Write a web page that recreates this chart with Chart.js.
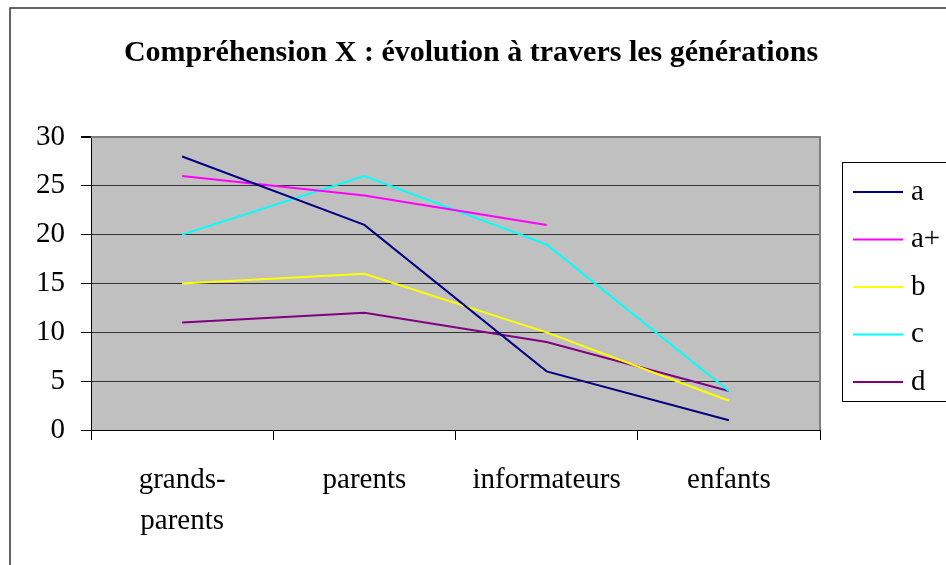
<!DOCTYPE html>
<html>
<head>
<meta charset="utf-8">
<script src="https://cdn.jsdelivr.net/npm/chart.js@4.4.1/dist/chart.umd.min.js"></script>
<style>
  html, body { margin: 0; padding: 0; background: #fff; }
  #wrap { width: 946px; height: 565px; }
</style>
</head>
<body>
<div id="wrap"><canvas id="chart-comprehension"></canvas></div>
<script>
const categories = [['grands-', 'parents'], 'parents', 'informateurs', 'enfants'];
const seriesNames = ['a', 'a+', 'b', 'c', 'd'];
const seriesColors = ['#000080', '#FF00FF', '#FFFF00', '#00FFFF', '#800080'];
const valuesA = [28, 21, 6, 1];
const valuesAPlus = [26, 24, 21, null];
const valuesB = [15, 16, 10, 3];
const valuesC = [20, 26, 19, 4];
const valuesD = [11, 12, 9, 4];
const yTicks = [0, 5, 10, 15, 20, 25, 30];
const titleText = 'Compréhension X : évolution à travers les générations';

const serif = "'Liberation Serif', 'Times New Roman', serif";
const allValues = [valuesA, valuesAPlus, valuesB, valuesC, valuesD];

// gray plot background, outer frame, title and boxed legend
const excelLook = {
  id: 'excelLook',
  beforeDraw(chart) {
    const { ctx, chartArea: { top, bottom, left, right } } = chart;
    ctx.save();
    ctx.fillStyle = '#C0C0C0';
    ctx.fillRect(left, top, right - left, bottom - top);
    ctx.restore();
  },
  afterDraw(chart) {
    const { ctx, chartArea: { top, bottom, left, right } } = chart;
    ctx.save();

    // plot border top/right in gray
    ctx.strokeStyle = '#808080';
    ctx.lineWidth = 2;
    ctx.beginPath();
    ctx.moveTo(left, top);
    ctx.lineTo(right, top);
    ctx.lineTo(right, bottom);
    ctx.stroke();

    // outer frame
    ctx.strokeStyle = '#333';
    ctx.lineWidth = 1.5;
    ctx.strokeRect(10, 8, 1000, 1000);

    // title
    ctx.fillStyle = '#000';
    ctx.font = `bold 30px ${serif}`;
    ctx.textAlign = 'center';
    ctx.textBaseline = 'alphabetic';
    ctx.fillText(titleText, 471, 61);

    // legend
    ctx.strokeStyle = '#000';
    ctx.lineWidth = 1;
    ctx.strokeRect(842.5, 162.5, 200, 239);
    ctx.font = `29px ${serif}`;
    ctx.textAlign = 'left';
    ctx.textBaseline = 'middle';
    chart.data.datasets.forEach((ds, i) => {
      const y = 192 + i * 47.5;
      ctx.strokeStyle = ds.borderColor;
      ctx.lineWidth = 2;
      ctx.beginPath();
      ctx.moveTo(853, y);
      ctx.lineTo(903, y);
      ctx.stroke();
      ctx.fillStyle = '#000';
      ctx.fillText(ds.label, 911, y);
    });
    ctx.restore();
  }
};

new Chart(document.getElementById('chart-comprehension'), {
  type: 'line',
  data: {
    labels: categories,
    datasets: seriesNames.map((name, i) => ({
      label: name,
      data: allValues[i],
      borderColor: seriesColors[i],
      backgroundColor: seriesColors[i],
      borderWidth: 2,
      pointRadius: 0,
      tension: 0,
      spanGaps: false
    }))
  },
  options: {
    responsive: true,
    maintainAspectRatio: false,
    animation: false,
    layout: {
      padding: { left: 0, top: 137, right: 126, bottom: 0 }
    },
    plugins: {
      legend: { display: false },
      title: { display: false },
      tooltip: { enabled: false }
    },
    scales: {
      x: {
        type: 'category',
        offset: true,
        afterFit: (s) => { s.height = 135; },
        grid: {
          offset: true,
          drawOnChartArea: false,
          tickLength: 10,
          color: '#000'
        },
        border: { color: '#000', width: 1 },
        ticks: {
          color: '#000',
          padding: 20,
          maxRotation: 0,
          autoSkip: false,
          font: { family: serif, size: 29, lineHeight: 1.4 }
        }
      },
      y: {
        min: 0,
        max: 30,
        afterFit: (s) => { s.width = 91; },
        afterBuildTicks: (s) => { s.ticks = yTicks.map(v => ({ value: v })); },
        grid: {
          color: (c) => c.tick && c.tick.value === 30 ? '#808080' : '#333',
          lineWidth: (c) => c.tick && c.tick.value === 30 ? 2 : 1,
          tickColor: '#000',
          tickLength: 10
        },
        border: { color: '#000', width: 1 },
        ticks: {
          color: '#000',
          padding: 16,
          font: { family: serif, size: 29 }
        }
      }
    }
  },
  plugins: [excelLook]
});
</script>
</body>
</html>
